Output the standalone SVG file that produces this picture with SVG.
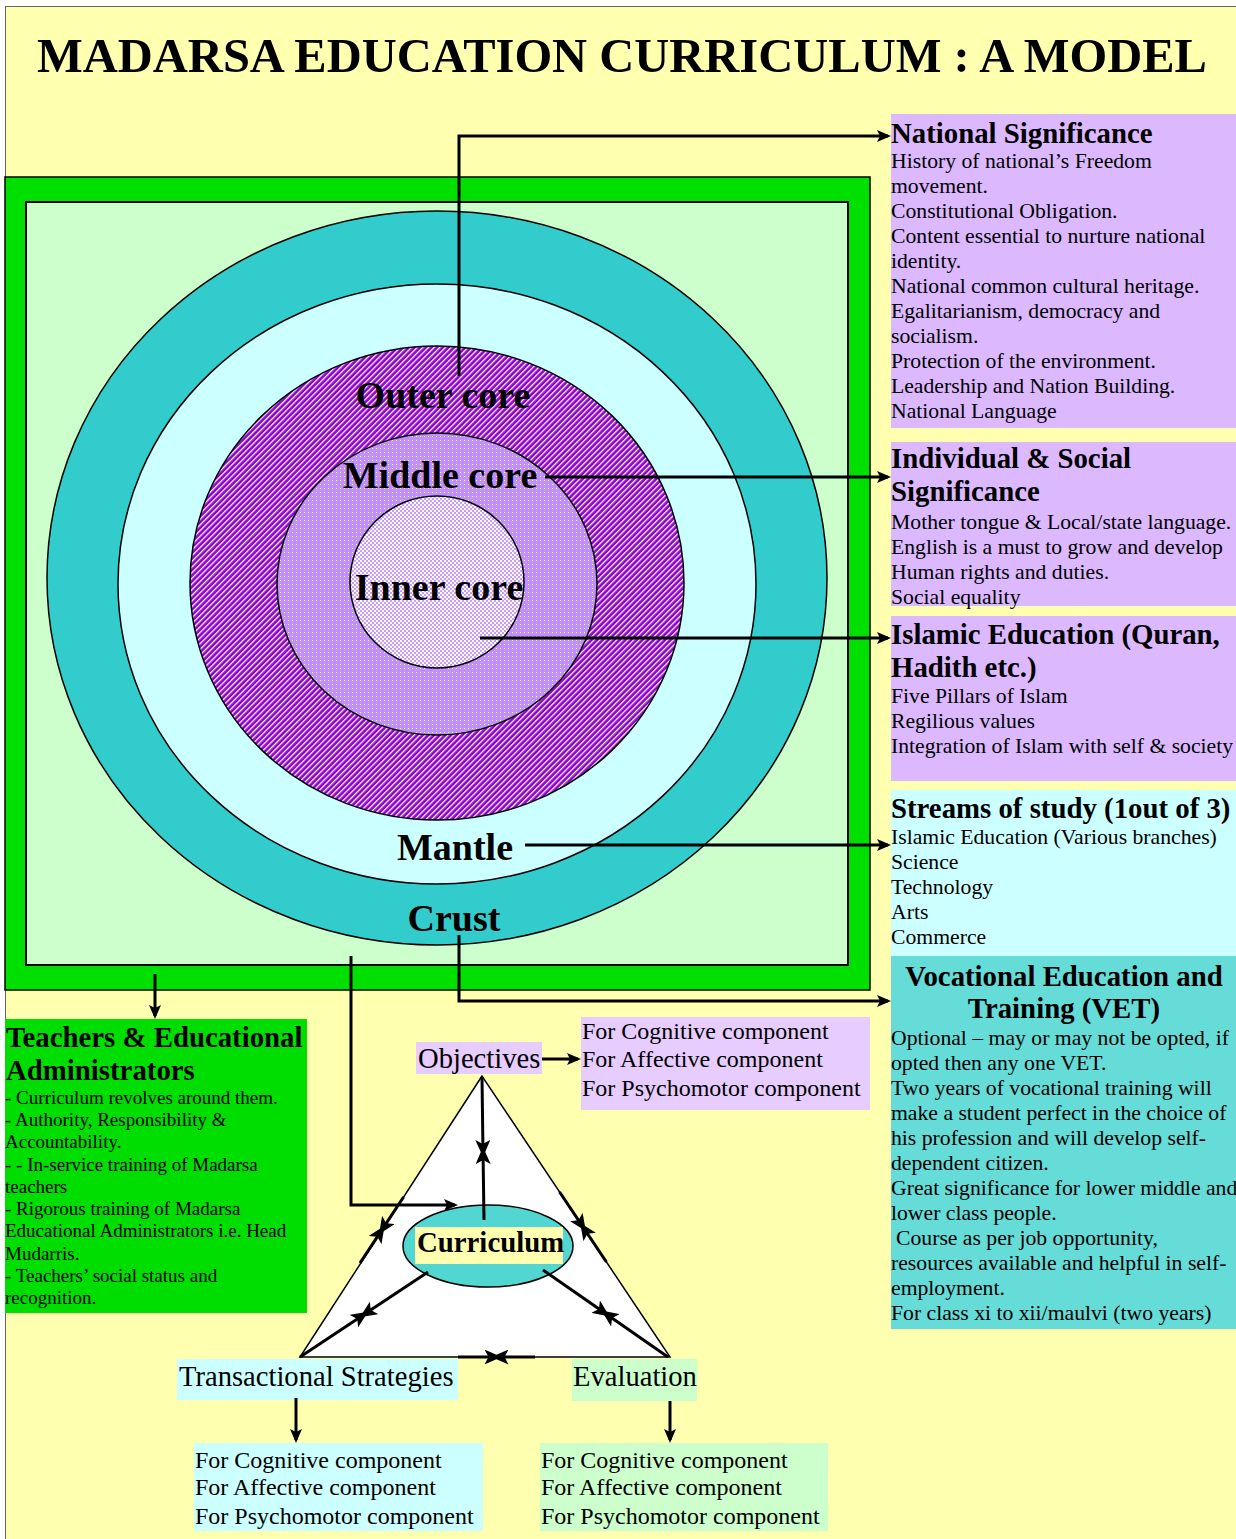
<svg xmlns="http://www.w3.org/2000/svg" width="1236" height="1539" viewBox="0 0 1236 1539">
<style>
text{font-family:"Liberation Serif","Times New Roman",serif;fill:#000}
.title{font-size:48.5px;font-weight:bold}
.core{font-size:38px;font-weight:bold;text-anchor:middle}
.h{font-size:28.8px;font-weight:bold}
.b{font-size:21.7px}
.tb{font-size:19px}
.m{font-size:24px}
.l{font-size:28.6px}
.conn line,.conn path,.conn polyline{stroke:#000;stroke-width:3;fill:none}
.arr{marker-end:url(#ah)}
.bt{marker-end:url(#ah2)}
.ring{stroke:#000;stroke-width:1.5}
</style>
<defs>
<marker id="ah" markerUnits="userSpaceOnUse" markerWidth="14" markerHeight="12" viewBox="0 0 14 12" refX="11" refY="6" orient="auto">
<path d="M0,0 L14,6 L0,12 L3,6 z" fill="#000"/>
</marker>
<marker id="ah2" markerUnits="userSpaceOnUse" markerWidth="17" markerHeight="15" viewBox="0 0 17 15" refX="13" refY="7.5" orient="auto">
<path d="M0,0 L17,7.5 L0,15 L4,7.5 z" fill="#000"/>
</marker>
<pattern id="pOuter" width="4" height="4" patternUnits="userSpaceOnUse" patternTransform="rotate(45)">
<rect width="4" height="4" fill="#9000C8"/>
<rect width="1.3" height="4" fill="#FFFFFF"/>
</pattern>
<pattern id="pMiddle" width="4" height="4" patternUnits="userSpaceOnUse">
<rect width="4" height="4" fill="#C48EFF"/>
<rect width="1" height="1" fill="#FFFFFF"/>
</pattern>
<pattern id="pInner" width="4" height="4" patternUnits="userSpaceOnUse">
<rect width="4" height="4" fill="#CC99FF"/>
<rect width="2" height="2" fill="#FFFFFF"/>
<rect x="2" y="2" width="2" height="2" fill="#FFFFFF"/>
</pattern>
</defs>

<rect x="0" y="0" width="1236" height="1539" fill="#FFFFFF"/>
<rect x="5.5" y="6.5" width="1240" height="1540" fill="#FFFFB0" stroke="#666666" stroke-width="1"/>

<text class="title" x="37" y="72">MADARSA EDUCATION CURRICULUM : A MODEL</text>

<g id="earth-model">
<rect x="5" y="177" width="865" height="813" fill="#00E000" stroke="#000" stroke-width="1.5"/>
<rect x="26" y="202" width="822" height="763" fill="#CCFFCC" stroke="#000" stroke-width="2"/>
<g id="crust"><ellipse class="ring" cx="437" cy="578" rx="390" ry="367" fill="#33CCCC"/></g>
<g id="mantle"><ellipse class="ring" cx="437" cy="584" rx="319" ry="300" fill="#CCFFFF"/></g>
<g id="outer-core"><ellipse class="ring" cx="437" cy="583" rx="247" ry="237" fill="url(#pOuter)"/></g>
<g id="middle-core"><ellipse class="ring" cx="437" cy="584" rx="160" ry="151" fill="url(#pMiddle)"/></g>
<g id="inner-core"><ellipse class="ring" cx="437" cy="582" rx="87" ry="86" fill="url(#pInner)"/></g>
<text class="core" x="443" y="408">Outer core</text>
<text class="core" x="440" y="488">Middle core</text>
<text class="core" x="439" y="600">Inner core</text>
<text class="core" x="455" y="860">Mantle</text>
<text class="core" x="454" y="931">Crust</text>
</g>

<g id="national">
<rect x="891" y="114" width="345" height="314" fill="#DCB9FF"/>
<text class="h" x="891" y="143">National Significance</text>
<text class="b" x="891" y="168">History of national’s Freedom</text>
<text class="b" x="891" y="193">movement.</text>
<text class="b" x="891" y="218">Constitutional Obligation.</text>
<text class="b" x="891" y="243">Content essential to nurture national</text>
<text class="b" x="891" y="268">identity.</text>
<text class="b" x="891" y="293">National common cultural heritage.</text>
<text class="b" x="891" y="318">Egalitarianism, democracy and</text>
<text class="b" x="891" y="343">socialism.</text>
<text class="b" x="891" y="368">Protection of the environment.</text>
<text class="b" x="891" y="393">Leadership and Nation Building.</text>
<text class="b" x="891" y="418">National Language</text>
</g>

<g id="individual">
<rect x="891" y="442" width="345" height="164" fill="#DCB9FF"/>
<text class="h" x="891" y="468">Individual &amp; Social</text>
<text class="h" x="891" y="501">Significance</text>
<text class="b" x="891" y="529">Mother tongue &amp; Local/state language.</text>
<text class="b" x="891" y="554">English is a must to grow and develop</text>
<text class="b" x="891" y="579">Human rights and duties.</text>
<text class="b" x="891" y="604">Social equality</text>
</g>

<g id="islamic">
<rect x="891" y="616" width="345" height="165" fill="#DCB9FF"/>
<text class="h" x="891" y="644">Islamic Education (Quran,</text>
<text class="h" x="891" y="677">Hadith etc.)</text>
<text class="b" x="891" y="703">Five Pillars of Islam</text>
<text class="b" x="891" y="728">Regilious values</text>
<text class="b" x="891" y="753">Integration of Islam with self &amp; society</text>
</g>

<g id="streams">
<rect x="891" y="790" width="345" height="166" fill="#CCFFFF"/>
<text class="h" x="891" y="818">Streams of study (1out of 3)</text>
<text class="b" x="891" y="844">Islamic Education (Various branches)</text>
<text class="b" x="891" y="869">Science</text>
<text class="b" x="891" y="894">Technology</text>
<text class="b" x="891" y="919">Arts</text>
<text class="b" x="891" y="944">Commerce</text>
</g>

<g id="vet">
<rect x="891" y="956" width="345" height="373" fill="#66DCD8"/>
<text class="h" x="1064" y="986" text-anchor="middle">Vocational Education and</text>
<text class="h" x="1064" y="1018" text-anchor="middle">Training (VET)</text>
<text class="b" x="891" y="1045">Optional – may or may not be opted, if</text>
<text class="b" x="891" y="1070">opted then any one VET.</text>
<text class="b" x="891" y="1095">Two years of vocational training will</text>
<text class="b" x="891" y="1120">make a student perfect in the choice of</text>
<text class="b" x="891" y="1145">his profession and will develop self-</text>
<text class="b" x="891" y="1170">dependent citizen.</text>
<text class="b" x="891" y="1195">Great significance for lower middle and</text>
<text class="b" x="891" y="1220">lower class people.</text>
<text class="b" x="896" y="1245">Course as per job opportunity,</text>
<text class="b" x="891" y="1270">resources available and helpful in self-</text>
<text class="b" x="891" y="1295">employment.</text>
<text class="b" x="891" y="1320">For class xi to xii/maulvi (two years)</text>
</g>

<g id="teachers">
<rect x="5" y="1019" width="302" height="294" fill="#00DD00"/>
<text class="h" x="6" y="1047">Teachers &amp; Educational</text>
<text class="h" x="6" y="1080">Administrators</text>
<text class="tb" x="5" y="1104">- Curriculum revolves around them.</text>
<text class="tb" x="5" y="1126">- Authority, Responsibility &amp;</text>
<text class="tb" x="5" y="1148">Accountability.</text>
<text class="tb" x="5" y="1171">- - In-service training of Madarsa</text>
<text class="tb" x="5" y="1193">teachers</text>
<text class="tb" x="5" y="1215">- Rigorous training of Madarsa</text>
<text class="tb" x="5" y="1237">Educational  Administrators i.e. Head</text>
<text class="tb" x="5" y="1260">Mudarris.</text>
<text class="tb" x="5" y="1282">- Teachers’ social status and</text>
<text class="tb" x="5" y="1304">recognition.</text>
</g>

<g id="triangle">
<polygon points="482,1076 300,1357 670,1357" fill="#FFFFFF" stroke="#000" stroke-width="1.5"/>
</g>

<g id="curriculum">
<ellipse cx="488" cy="1246" rx="85" ry="41" fill="#52D6D2" stroke="#000" stroke-width="1.5"/>
<rect x="415" y="1227" width="148" height="37" fill="#FFFFB0"/>
<text class="h" x="417" y="1252">Curriculum</text>
</g>

<g id="objectives">
<rect x="416" y="1042" width="126" height="32" fill="#E6CCFF"/>
<text class="l" x="418" y="1068">Objectives</text>
</g>
<g id="objectives-list">
<rect x="581" y="1017" width="289" height="93" fill="#E6CCFF"/>
<text class="m" x="582" y="1039">For Cognitive component</text>
<text class="m" x="582" y="1067">For Affective component</text>
<text class="m" x="582" y="1096">For Psychomotor component</text>
</g>

<g id="transactional">
<rect x="177" y="1359" width="281" height="41" fill="#CCFFFF"/>
<text class="l" x="179" y="1386">Transactional Strategies</text>
</g>
<g id="evaluation">
<rect x="572" y="1359" width="125" height="42" fill="#CCFFCC"/>
<text class="l" x="573" y="1386">Evaluation</text>
</g>

<g id="ts-list">
<rect x="194" y="1443" width="289" height="88" fill="#CCFFFF"/>
<text class="m" x="195" y="1468">For Cognitive component</text>
<text class="m" x="195" y="1495">For Affective component</text>
<text class="m" x="195" y="1524">For Psychomotor component</text>
</g>
<g id="eval-list">
<rect x="540" y="1443" width="288" height="88" fill="#CCFFCC"/>
<text class="m" x="541" y="1468">For Cognitive component</text>
<text class="m" x="541" y="1495">For Affective component</text>
<text class="m" x="541" y="1524">For Psychomotor component</text>
</g>

<g id="connectors" class="conn">
<polyline class="arr" points="459,376 459,136 888,136"/>
<line class="arr" x1="545" y1="477" x2="888" y2="477"/>
<line class="arr" x1="480" y1="638" x2="888" y2="638"/>
<line class="arr" x1="525" y1="845" x2="888" y2="845"/>
<polyline class="arr" points="459,935 459,1001 888,1001"/>
<line class="arr" x1="155" y1="974" x2="155" y2="1016"/>
<polyline class="arr" points="351,956 351,1205 455,1205"/>
<line class="arr" x1="542" y1="1059" x2="578" y2="1059"/>
<line class="arr" x1="296" y1="1398" x2="296" y2="1440"/>
<line class="arr" x1="670" y1="1401" x2="670" y2="1440"/>
<line class="bt" x1="482" y1="1077" x2="483" y2="1153"/>
<line class="bt" x1="484" y1="1220" x2="483" y2="1151"/>
<line class="bt" x1="403.6" y1="1197" x2="381.2" y2="1230.8"/>
<line class="bt" x1="360" y1="1263" x2="382.4" y2="1229.2"/>
<line class="bt" x1="559.6" y1="1192" x2="583.6" y2="1227.8"/>
<line class="bt" x1="606.4" y1="1262" x2="582.4" y2="1226.2"/>
<line class="bt" x1="428" y1="1272" x2="363.2" y2="1315.1"/>
<line class="bt" x1="300" y1="1357" x2="364.8" y2="1313.9"/>
<line class="bt" x1="543" y1="1270" x2="606.3" y2="1314.1"/>
<line class="bt" x1="668" y1="1357" x2="604.7" y2="1312.9"/>
<line class="bt" x1="458" y1="1357" x2="497.5" y2="1357"/>
<line class="bt" x1="535" y1="1357" x2="495.5" y2="1357"/>
</g>
</svg>
